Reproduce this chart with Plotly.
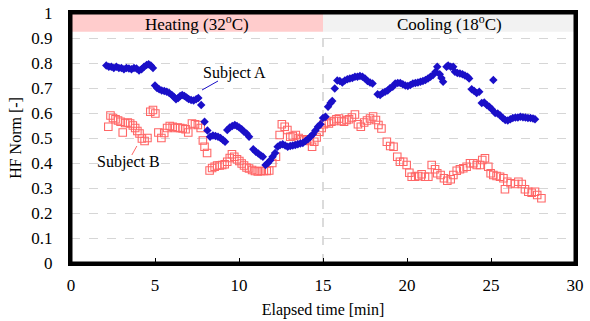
import plotly.graph_objects as go

# Subject A (blue diamonds)
a_time = [2.10, 2.25, 2.40, 2.55, 2.70, 2.85, 3.00, 3.15, 3.30, 3.45, 3.60, 3.75, 3.90, 4.05, 4.20, 4.35, 4.50, 4.62, 4.75, 4.88,
          5.00, 5.12, 5.25, 5.40, 5.55, 5.70, 5.85, 6.00, 6.12, 6.25, 6.38, 6.50, 6.62, 6.75, 6.88, 7.00, 7.15, 7.30, 7.45, 7.58,
          7.75, 7.95, 8.12, 8.28, 8.45, 8.60, 8.75, 8.90, 9.05, 9.17, 9.30, 9.45, 9.60, 9.75, 9.88, 10.02, 10.16, 10.30, 10.45, 10.60,
          10.85, 11.00, 11.15, 11.30, 11.42, 11.58, 11.72, 11.85, 12.00, 12.15, 12.30, 12.45, 12.60, 12.75, 12.90, 13.05, 13.20, 13.35, 13.50, 13.65,
          13.80, 13.95, 14.10, 14.25, 14.40, 14.55, 14.70, 14.85, 15.00, 15.15, 15.30, 15.45, 15.55, 15.70, 15.85, 16.00, 16.15, 16.30, 16.45, 16.60,
          16.75, 16.90, 17.05, 17.20, 17.35, 17.50, 17.65, 17.80, 17.95, 18.25, 18.40, 18.55, 18.70, 18.85, 19.00, 19.15, 19.30, 19.45, 19.60, 19.75,
          19.90, 20.05, 20.20, 20.35, 20.50, 20.65, 20.80, 20.95, 21.10, 21.25, 21.40, 21.55, 21.70, 21.80, 21.95, 22.05, 22.15, 22.35, 22.45, 22.60,
          22.75, 22.85, 23.00, 23.15, 23.30, 23.45, 23.60, 23.70, 23.85, 24.00, 24.15, 24.30, 24.45, 24.60, 24.75, 24.90, 25.14, 25.05, 25.25, 25.40,
          25.55, 25.70, 25.85, 26.00, 26.15, 26.30, 26.45, 26.60, 26.75, 26.90, 27.05, 27.20, 27.35, 27.50, 27.62]
a_hf = [0.790, 0.785, 0.785, 0.780, 0.785, 0.780, 0.780, 0.775, 0.780, 0.778, 0.775, 0.780, 0.778, 0.770, 0.775, 0.785, 0.792, 0.795, 0.790, 0.780,
        0.710, 0.700, 0.695, 0.690, 0.688, 0.685, 0.680, 0.672, 0.665, 0.655, 0.660, 0.668, 0.672, 0.668, 0.662, 0.656, 0.652, 0.650, 0.655, 0.660,
        0.632, 0.565, 0.530, 0.505, 0.510, 0.508, 0.505, 0.500, 0.492, 0.485, 0.532, 0.542, 0.548, 0.552, 0.548, 0.542, 0.535, 0.525, 0.518, 0.505,
        0.455, 0.445, 0.438, 0.430, 0.425, 0.392, 0.400, 0.410, 0.425, 0.440, 0.465, 0.472, 0.475, 0.470, 0.465, 0.468, 0.470, 0.472, 0.475, 0.478,
        0.480, 0.488, 0.495, 0.505, 0.515, 0.530, 0.545, 0.555, 0.580, 0.585, 0.625, 0.640, 0.648, 0.698, 0.730, 0.728, 0.722, 0.730, 0.735, 0.738,
        0.740, 0.745, 0.745, 0.748, 0.745, 0.738, 0.728, 0.722, 0.718, 0.675, 0.672, 0.680, 0.685, 0.690, 0.700, 0.705, 0.718, 0.720, 0.720, 0.715,
        0.710, 0.708, 0.712, 0.718, 0.720, 0.722, 0.725, 0.728, 0.732, 0.738, 0.745, 0.752, 0.765, 0.785, 0.755, 0.740, 0.725, 0.785, 0.790, 0.785,
        0.785, 0.765, 0.760, 0.758, 0.755, 0.750, 0.745, 0.738, 0.695, 0.688, 0.680, 0.685, 0.640, 0.642, 0.632, 0.625, 0.732, 0.615, 0.600, 0.598,
        0.590, 0.580, 0.572, 0.570, 0.575, 0.580, 0.582, 0.582, 0.585, 0.583, 0.582, 0.580, 0.580, 0.578, 0.575]

# Subject B (open red squares)
b_time = [2.22, 2.35, 2.50, 2.65, 2.80, 2.95, 3.08, 3.22, 3.38, 3.52, 3.68, 3.82, 3.95, 4.08, 4.22, 4.38, 4.55, 4.72, 4.88, 5.02,
          5.20, 5.38, 5.55, 5.72, 5.88, 6.05, 6.20, 6.35, 6.50, 6.65, 6.82, 6.98, 7.20, 7.38, 7.55, 7.72, 7.85, 7.95, 8.10, 8.25,
          8.40, 8.55, 8.70, 8.85, 9.00, 9.15, 9.30, 9.45, 9.58, 9.72, 9.88, 10.02, 10.16, 10.30, 10.45, 10.60, 10.78, 10.95, 11.12, 11.30,
          11.48, 11.65, 11.80, 11.98, 12.20, 12.42, 12.55, 12.72, 12.88, 13.05, 13.20, 13.38, 13.55, 13.72, 13.88, 14.05, 14.22, 14.35, 14.48, 14.62,
          14.78, 14.92, 15.05, 15.20, 15.35, 15.50, 15.65, 15.80, 15.95, 16.10, 16.25, 16.40, 16.55, 16.72, 16.90, 17.08, 17.25, 17.45, 17.62, 17.80,
          17.98, 18.15, 18.30, 18.48, 18.80, 19.00, 19.20, 19.42, 19.58, 19.78, 19.98, 20.14, 20.28, 20.48, 20.67, 20.87, 21.07, 21.27, 21.47, 21.67,
          21.80, 22.00, 22.20, 22.40, 22.60, 22.76, 22.96, 23.15, 23.35, 23.55, 23.75, 23.95, 24.15, 24.35, 24.48, 24.64, 24.84, 24.98, 25.14, 25.33,
          25.54, 25.74, 25.83, 25.97, 26.17, 26.43, 26.63, 26.83, 27.02, 27.22, 27.42, 27.62, 27.75, 28.00]
b_hf = [0.545, 0.590, 0.580, 0.575, 0.570, 0.565, 0.522, 0.560, 0.562, 0.558, 0.550, 0.540, 0.528, 0.518, 0.498, 0.488, 0.500, 0.605, 0.612, 0.598,
        0.522, 0.500, 0.520, 0.540, 0.548, 0.545, 0.540, 0.542, 0.540, 0.538, 0.535, 0.522, 0.558, 0.555, 0.552, 0.540, 0.490, 0.465, 0.440, 0.370,
        0.380, 0.385, 0.390, 0.390, 0.392, 0.395, 0.405, 0.420, 0.435, 0.425, 0.415, 0.408, 0.398, 0.390, 0.382, 0.378, 0.372, 0.368, 0.366, 0.368,
        0.368, 0.368, 0.370, 0.400, 0.425, 0.512, 0.555, 0.545, 0.532, 0.505, 0.508, 0.512, 0.500, 0.495, 0.490, 0.495, 0.488, 0.465, 0.485, 0.502,
        0.525, 0.540, 0.555, 0.562, 0.558, 0.565, 0.568, 0.575, 0.578, 0.568, 0.565, 0.572, 0.575, 0.582, 0.594, 0.555, 0.545, 0.562, 0.570, 0.578,
        0.586, 0.572, 0.552, 0.538, 0.485, 0.468, 0.465, 0.425, 0.405, 0.405, 0.392, 0.361, 0.345, 0.345, 0.348, 0.355, 0.345, 0.345, 0.392, 0.375,
        0.359, 0.352, 0.339, 0.329, 0.335, 0.352, 0.369, 0.375, 0.379, 0.385, 0.399, 0.399, 0.392, 0.392, 0.412, 0.419, 0.385, 0.359, 0.352, 0.348,
        0.345, 0.339, 0.295, 0.325, 0.319, 0.316, 0.325, 0.316, 0.295, 0.285, 0.281, 0.285, 0.272, 0.259]

x_ticks = [0, 5, 10, 15, 20, 25, 30]
y_ticks = [0, 0.1, 0.2, 0.3, 0.4, 0.5, 0.6, 0.7, 0.8, 0.9, 1]
y_tick_labels = ["0", "0.1", "0.2", "0.3", "0.4", "0.5", "0.6", "0.7", "0.8", "0.9", "1"]
phase_names = ["Heating (32<sup>o</sup>C)", "Cooling (18<sup>o</sup>C)"]
phase_start = [0, 15]
phase_end = [15, 30]
phase_colors = ["#FFCCCC", "#F2F2F2"]

FONT = "Liberation Serif"
BLUE = "#1A0FC8"
RED = "#FF6666"

fig = go.Figure()
fig.add_trace(go.Scatter(x=b_time, y=b_hf, mode="markers", name="Subject B",
                         marker=dict(symbol="square-open", size=7.5, color=RED, line=dict(width=1.1, color=RED))))
fig.add_trace(go.Scatter(x=a_time, y=a_hf, mode="markers", name="Subject A",
                         marker=dict(symbol="diamond", size=6.5, color=BLUE, line=dict(width=0))))

shapes = []
annotations = []
for name, x0, x1, c in zip(phase_names, phase_start, phase_end, phase_colors):
    shapes.append(dict(type="rect", xref="x", yref="y", x0=x0, x1=x1, y0=0.925, y1=1.0,
                       fillcolor=c, line=dict(width=0), layer="below"))
    annotations.append(dict(x=(x0 + x1) / 2, y=0.962, xref="x", yref="y", text=name, showarrow=False,
                            font=dict(family=FONT, size=17, color="black")))
shapes.append(dict(type="line", xref="x", yref="y", x0=15, x1=15, y0=0, y1=0.925,
                   line=dict(color="#C8C8C8", width=1.3, dash="dash"), layer="below"))
# annotation leader lines
shapes.append(dict(type="line", xref="x", yref="y", x0=7.8, y0=0.692, x1=8.75, y1=0.728,
                   line=dict(color=BLUE, width=1)))
shapes.append(dict(type="line", xref="x", yref="y", x0=3.62, y0=0.432, x1=3.92, y1=0.468,
                   line=dict(color=RED, width=1)))
# plot frame: four edges drawn explicitly
for (fx0, fy0, fx1, fy1) in [(0, 0, 1, 0), (0, 1, 1, 1), (0, 0, 0, 1), (1, 0, 1, 1)]:
    shapes.append(dict(type="line", xref="paper", yref="paper", x0=fx0, y0=fy0, x1=fx1, y1=fy1,
                       line=dict(color="black", width=3), layer="above"))
annotations.append(dict(x=9.76, y=0.762, xref="x", yref="y", text="Subject A", showarrow=False,
                        font=dict(family=FONT, size=16, color="black")))
annotations.append(dict(x=3.4, y=0.404, xref="x", yref="y", text="Subject B", showarrow=False,
                        font=dict(family=FONT, size=16, color="black")))

fig.update_layout(
    width=590, height=321,
    margin=dict(l=71, r=15, t=13, b=58),
    paper_bgcolor="white", plot_bgcolor="white",
    showlegend=False,
    shapes=shapes, annotations=annotations,
    font=dict(family=FONT, size=17, color="black"),
    xaxis=dict(range=[0, 30], tickvals=x_ticks, ticks="inside", ticklen=5, tickwidth=1, tickcolor="black",
               showline=True, linecolor="black", linewidth=3, mirror=True, showgrid=False, zeroline=False,
               automargin=False, ticklabelstandoff=5,
               title=dict(text="Elapsed time [min]", font=dict(family=FONT, size=16), standoff=10),
               tickfont=dict(family=FONT, size=17)),
    yaxis=dict(range=[0, 1], tickvals=y_ticks, ticktext=y_tick_labels, ticks="", ticklabelstandoff=12,
               showline=True, linecolor="black", linewidth=3, mirror=True, automargin=False,
               showgrid=True, gridcolor="#D6D6D6", griddash="dash", gridwidth=1, zeroline=False,
               title=dict(text="HF Norm [-]", font=dict(family=FONT, size=16), standoff=6),
               tickfont=dict(family=FONT, size=17)),
)

# remove the browser's default 8px page margin so the figure sits at the window origin
fig.write_html("out.html", config={"displayModeBar": False},
               post_script="document.body.style.margin='0';document.body.style.overflow='hidden';")
